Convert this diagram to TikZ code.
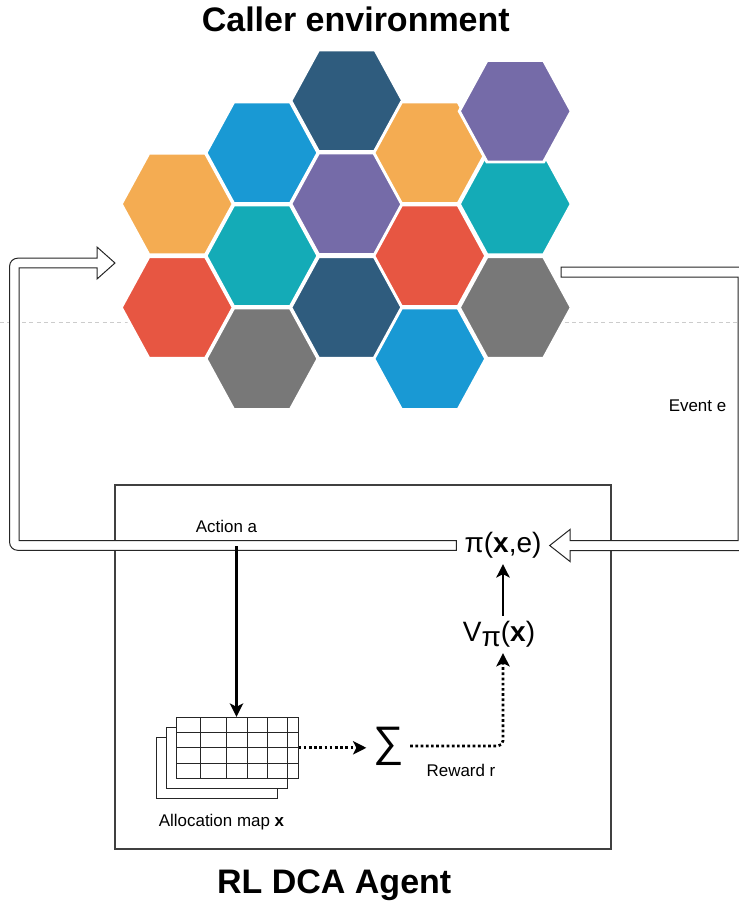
\documentclass[tikz,border=0pt]{standalone}
\usepackage{fontspec}
\setmainfont{Liberation Sans}
\usetikzlibrary{arrows.meta, positioning, calc}

\definecolor{hexorange}{HTML}{F4AC52}
\definecolor{hexblue}{HTML}{1999D4}
\definecolor{hexnavy}{HTML}{2F5C7E}
\definecolor{hexpurple}{HTML}{756BA8}
\definecolor{hexteal}{HTML}{14ABB7}
\definecolor{hexred}{HTML}{E75642}
\definecolor{hexgray}{HTML}{787878}

\begin{document}
\begin{tikzpicture}[
  x=0.75pt, y=-0.75pt,
  hexcell/.style={draw=white, line width=2.2pt},
  heading/.style={font=\fontsize{25.5}{29}\selectfont\bfseries, anchor=base, inner sep=0pt},
  lbl/.style={font=\fontsize{12.7}{15}\selectfont, anchor=base, inner sep=0pt},
  mathlbl/.style={font=\fontsize{21}{25}\selectfont, inner xsep=6pt, inner ysep=4pt},
  hollow/.style={draw=black!85, line width=0.75pt, fill=white},
  arrow/.style={-{Stealth[length=10pt, width=10pt, inset=2.5pt]}, line width=1.9pt},
  dotarrow/.style={arrow, line width=2pt, dash pattern=on 2pt off 1.9pt},
  sheet/.style={draw=black!85, line width=0.75pt, fill=white},
  agentframe/.style={draw=black!75, line width=0.8pt},
]

%% Page frame
\clip (0,0) rectangle (739,901);

%% Guide line behind the cells
\draw[black!20, line width=0.6pt, dash pattern=on 3pt off 2.5pt] (0,322.7) -- (739,322.7);

%% Caller environment: hexagon cells
\foreach \hx/\hy/\hc in {177.2/204/hexorange, 177.2/307.5/hexred,
    262/152.8/hexblue, 262/255.8/hexteal, 262/358.8/hexgray,
    346.8/100.8/hexnavy, 346.8/203.8/hexpurple, 346.8/307.5/hexnavy,
    429.8/152.8/hexorange, 429.8/255.8/hexred, 429.8/358.8/hexblue,
    515.3/204/hexteal, 515.3/111.2/hexpurple, 515.3/307.5/hexgray}
  \filldraw[hexcell, fill=\hc] (\hx,\hy) +(-56,0) -- +(-28.3,-50.8) -- +(28.3,-50.8)
    -- +(56,0) -- +(28.3,50.8) -- +(-28.3,50.8) -- cycle;

\node[heading] (envtitle) at (355.8,31.7) {Caller environment};

%% Agent frame
\draw[agentframe] (115,485) rectangle (611,849);
\node[heading] (agenttitle) at (334.2,893.3) {RL DCA Agent};

%% Policy and value
\node[mathlbl] (pi) at (503,545.5) {π(\textbf{x},e)};
\node[mathlbl, anchor=base] (val) at (499,641.7) {V\raisebox{-3.5pt}{π}(\textbf{x})};

%% Allocation map (stacked sheets)
\draw[sheet] (156,737.7) rectangle (277.3,798.3);
\draw[sheet] (166,727.3) rectangle (287.3,788.3);
\node[sheet, minimum width=91.5pt, minimum height=45.75pt, inner sep=0pt] (map) at (237,747.8) {};
\foreach \gx in {200.7,226.7,247.3,267.7,287.7}
  \draw[black!85, line width=0.75pt] (\gx,717.3) -- (\gx,778.3);
\foreach \gy in {732.7,747.7,763.3}
  \draw[black!85, line width=0.75pt] (176,\gy) -- (298,\gy);
\node[lbl] (maplbl) at (221.5,826.7) {Allocation map \textbf{x}};

%% Reward sum
\node[inner sep=0pt, minimum width=32.5pt, font=\fontsize{32}{34}\selectfont] (sum) at (388.3,746) {∑};
\node[lbl] (rewardlbl) at (461,776) {Reward r};

%% Loop ends
\coordinate (envin) at (115,263);
\coordinate (envout) at (561,272);
\coordinate (loopl) at (14.4,0);
\coordinate (loopr) at (743,0);
\coordinate (actsrc) at (236.5,546);

%% Event arrow: environment -> policy
\draw[hollow] (pi.east) -- ($(pi.east)+(20.3,-16)$) -- ($(pi.east)+(20.3,-5)$)
  -- ($(loopr |- pi.east)+(-5,-5)$) -- ($(loopr |- envout)+(-5,5)$)
  -- ($(envout)+(0,5)$) -- ($(envout)+(0,-5)$)
  -- ($(loopr |- envout)+(5,-5)$) -- ($(loopr |- pi.east)+(5,5)$)
  -- ($(pi.east)+(20.3,5)$) -- ($(pi.east)+(20.3,16)$) -- cycle;
\node[lbl] (eventlbl) at (697.5,411.7) {Event e};

%% Action arrow: policy -> environment
\draw[hollow] ($(pi.west)+(0,-4.8)$) -- ($(loopl |- pi.west)+(4.8,-4.8)$)
  -- ($(loopl |- envin)+(4.8,4.8)$) -- ($(envin)+(-18,4.8)$) -- ($(envin)+(-18,16)$)
  -- (envin) -- ($(envin)+(-18,-16)$) -- ($(envin)+(-18,-4.8)$)
  [rounded corners=6pt] -- ($(loopl |- envin)+(-4.8,-4.8)$) -- ($(loopl |- pi.west)+(-4.8,4.8)$)
  [sharp corners] -- ($(pi.west)+(0,4.8)$) -- cycle;
\node[lbl] (actionlbl) at (226.5,532.7) {Action a};

%% Connectors
\draw[arrow] (actsrc) -- (actsrc |- map.north);
\draw[dotarrow] (map.east) -- (map.east -| sum.west);
\draw[dotarrow, rounded corners=4pt] (sum.east) -| (pi.south |- val.south);
\draw[arrow] (pi.south |- val.north) -- (pi.south);

\end{tikzpicture}
\end{document}
